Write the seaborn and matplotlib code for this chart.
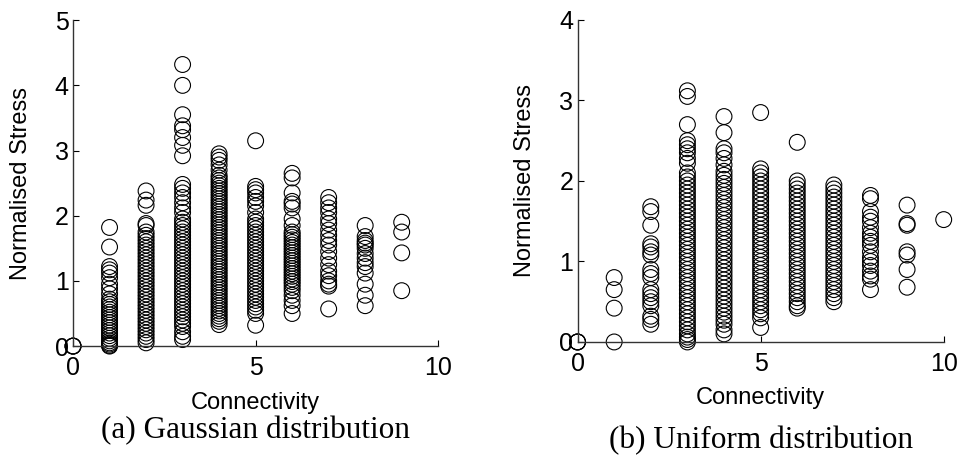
import pandas as pd
import seaborn as sns
import matplotlib.pyplot as plt

# stress values, one list per connectivity value
gauss_stress = {
    0: [0.0, 0.0, 0.0],
    1: [1.82, 1.52, 1.22, 1.17, 1.12, 1.05, 0.95, 0.88, 0.80, 0.72,
        0.68, 0.64, 0.60, 0.56, 0.52, 0.48, 0.44, 0.40, 0.36, 0.32, 0.28,
        0.24, 0.20, 0.16, 0.12, 0.08, 0.05, 0.03, 0.01, 0.0],
    2: [2.38, 2.24, 2.16, 1.88, 1.85, 1.75, 1.70, 1.65, 1.60, 1.55, 1.50,
        1.45, 1.40, 1.35, 1.30, 1.25, 1.20, 1.15, 1.10, 1.05, 1.00, 0.95,
        0.90, 0.85, 0.80, 0.75, 0.70, 0.65, 0.60, 0.55, 0.50, 0.45, 0.40,
        0.35, 0.30, 0.25, 0.20, 0.15, 0.10, 0.05],
    3: [4.32, 4.00, 3.55, 3.38, 3.32, 3.20, 3.08, 2.92, 2.48, 2.42, 2.35,
        2.28, 2.20, 2.12, 2.05, 1.95, 1.90, 1.85, 1.80, 1.75, 1.70, 1.65,
        1.60, 1.55, 1.50, 1.45, 1.40, 1.35, 1.30, 1.25, 1.20, 1.15, 1.10,
        1.05, 1.00, 0.95, 0.90, 0.85, 0.80, 0.75, 0.70, 0.65, 0.60, 0.55,
        0.50, 0.45, 0.40, 0.35, 0.30, 0.22, 0.15, 0.10],
    4: [2.95, 2.90, 2.85, 2.78, 2.70, 2.62, 2.58, 2.54, 2.50, 2.46, 2.42,
        2.38, 2.34, 2.30, 2.26, 2.22, 2.18, 2.14, 2.10, 2.06, 2.02, 1.98,
        1.94, 1.90, 1.86, 1.82, 1.78, 1.74, 1.70, 1.66, 1.62, 1.58, 1.54,
        1.50, 1.46, 1.42, 1.38, 1.34, 1.30, 1.26, 1.22, 1.18, 1.14, 1.10,
        1.06, 1.02, 0.98, 0.94, 0.90, 0.86, 0.82, 0.78, 0.74, 0.70, 0.66,
        0.62, 0.58, 0.54, 0.50, 0.46, 0.42, 0.38, 0.33],
    5: [3.15, 2.45, 2.40, 2.35, 2.28, 2.22, 2.15, 2.05, 1.95, 1.90, 1.85,
        1.80, 1.75, 1.70, 1.65, 1.60, 1.55, 1.50, 1.45, 1.40, 1.35, 1.30,
        1.25, 1.20, 1.15, 1.10, 1.05, 1.00, 0.95, 0.90, 0.85, 0.80, 0.75,
        0.70, 0.65, 0.60, 0.55, 0.50, 0.32],
    6: [2.65, 2.58, 2.35, 2.22, 2.18, 2.12, 1.95, 1.85, 1.75, 1.71, 1.67,
        1.63, 1.59, 1.55, 1.51, 1.47, 1.43, 1.39, 1.35, 1.31, 1.27, 1.23,
        1.19, 1.15, 1.11, 1.07, 1.03, 0.99, 0.95, 0.90, 0.85, 0.78, 0.70,
        0.62, 0.50],
    7: [2.28, 2.20, 2.12, 2.05, 1.95, 1.88, 1.78, 1.70, 1.62, 1.55, 1.45,
        1.35, 1.25, 1.15, 1.08, 1.00, 0.95, 0.92, 0.57],
    8: [1.85, 1.68, 1.62, 1.58, 1.55, 1.50, 1.42, 1.35, 1.28, 1.22, 1.12,
        0.95, 0.78, 0.62],
    9: [1.90, 1.75, 1.43, 0.85],
}

uniform_stress = {
    0: [0.0, 0.0, 0.0],
    1: [0.80, 0.65, 0.42, 0.0],
    2: [1.68, 1.62, 1.45, 1.22, 1.18, 1.12, 1.08, 0.90, 0.85, 0.80, 0.65,
        0.60, 0.55, 0.50, 0.45, 0.32, 0.28, 0.22],
    3: [3.12, 3.05, 2.70, 2.50, 2.45, 2.40, 2.35, 2.28, 2.22, 2.10, 2.05,
        2.00, 1.95, 1.90, 1.85, 1.80, 1.75, 1.70, 1.65, 1.60, 1.55, 1.50,
        1.45, 1.40, 1.35, 1.30, 1.25, 1.20, 1.15, 1.10, 1.05, 1.00, 0.95,
        0.90, 0.85, 0.80, 0.75, 0.70, 0.65, 0.60, 0.55, 0.50, 0.45, 0.40,
        0.35, 0.30, 0.25, 0.20, 0.15, 0.10, 0.06, 0.03, 0.0],
    4: [2.80, 2.60, 2.40, 2.35, 2.28, 2.20, 2.12, 2.07, 2.02, 1.97, 1.92,
        1.87, 1.82, 1.77, 1.72, 1.67, 1.62, 1.57, 1.52, 1.47, 1.42, 1.37,
        1.32, 1.27, 1.22, 1.17, 1.12, 1.07, 1.02, 0.97, 0.92, 0.87, 0.82,
        0.77, 0.72, 0.67, 0.62, 0.57, 0.52, 0.47, 0.42, 0.37, 0.32, 0.27,
        0.22, 0.15, 0.10],
    5: [2.85, 2.15, 2.10, 2.05, 2.00, 1.95, 1.90, 1.85, 1.80, 1.75, 1.70,
        1.65, 1.60, 1.55, 1.50, 1.45, 1.40, 1.35, 1.30, 1.25, 1.20, 1.15,
        1.10, 1.05, 1.00, 0.95, 0.90, 0.85, 0.80, 0.75, 0.70, 0.65, 0.60,
        0.55, 0.50, 0.45, 0.40, 0.35, 0.30, 0.18],
    6: [2.48, 2.00, 1.95, 1.90, 1.85, 1.80, 1.75, 1.70, 1.65, 1.60, 1.55,
        1.50, 1.45, 1.40, 1.35, 1.30, 1.25, 1.20, 1.15, 1.10, 1.05, 1.00,
        0.95, 0.90, 0.85, 0.80, 0.75, 0.70, 0.65, 0.60, 0.55, 0.50, 0.45,
        0.42],
    7: [1.95, 1.90, 1.85, 1.80, 1.75, 1.70, 1.65, 1.60, 1.55, 1.50, 1.45,
        1.40, 1.35, 1.30, 1.25, 1.20, 1.15, 1.10, 1.05, 1.00, 0.95, 0.90,
        0.85, 0.80, 0.75, 0.70, 0.65, 0.60, 0.55, 0.50],
    8: [1.82, 1.78, 1.62, 1.55, 1.50, 1.42, 1.35, 1.30, 1.25, 1.20, 1.12,
        1.05, 1.00, 0.95, 0.88, 0.82, 0.78, 0.65],
    9: [1.70, 1.47, 1.45, 1.12, 1.08, 0.90, 0.68],
    10: [1.52],
}

captions = ['(a) Gaussian distribution', '(b) Uniform distribution']
y_limits = [5, 4]
x_ticks = [0, 5, 10]


def to_frame(stress):
    rows = [(k, v) for k, vals in stress.items() for v in vals]
    return pd.DataFrame(rows, columns=['connectivity', 'stress'])


sns.set_theme(style='white')
plt.rcParams['font.family'] = ['Liberation Sans', 'DejaVu Sans']
plt.rcParams['text.color'] = 'black'
plt.rcParams['axes.labelcolor'] = 'black'

fig = plt.figure(figsize=(9.61, 4.59), dpi=100)
axes = [fig.add_axes([0.076, 0.246, 0.380, 0.710]),
        fig.add_axes([0.601, 0.255, 0.381, 0.7015])]
caption_y = [0.062, 0.040]

for ax, stress, ymax, cap, cy in zip(axes, [gauss_stress, uniform_stress],
                                     y_limits, captions, caption_y):
    df = to_frame(stress)
    sns.scatterplot(data=df, x='connectivity', y='stress', ax=ax, marker='o',
                    s=130, facecolors='none', edgecolor='black', linewidth=0.8,
                    clip_on=False, legend=False)
    ax.set_xlim(0, 10)
    ax.set_ylim(0, ymax)
    ax.set_xticks(x_ticks)
    ax.set_yticks(range(ymax + 1))
    ax.tick_params(direction='in', length=4, width=0.8, labelsize=18, pad=3,
                   colors='black', left=True, bottom=True)
    ax.tick_params(axis='x', pad=7)
    for side in ['top', 'right']:
        ax.spines[side].set_visible(False)
    for side in ['left', 'bottom']:
        ax.spines[side].set_color('#333333')
        ax.spines[side].set_linewidth(1.0)
    ax.set_xlabel('Connectivity', fontsize=17, va='center')
    ax.set_ylabel('Normalised Stress', fontsize=17, va='center')
    ax.xaxis.set_label_coords(0.5, -0.175)
    ax.yaxis.set_label_coords(-0.143, 0.5)
    bbox = ax.get_position()
    fig.text((bbox.x0 + bbox.x1) / 2, cy, cap, ha='center', va='center',
             fontsize=22.5, family=['Liberation Serif', 'DejaVu Serif'])

fig.savefig('out.png', dpi=100)
